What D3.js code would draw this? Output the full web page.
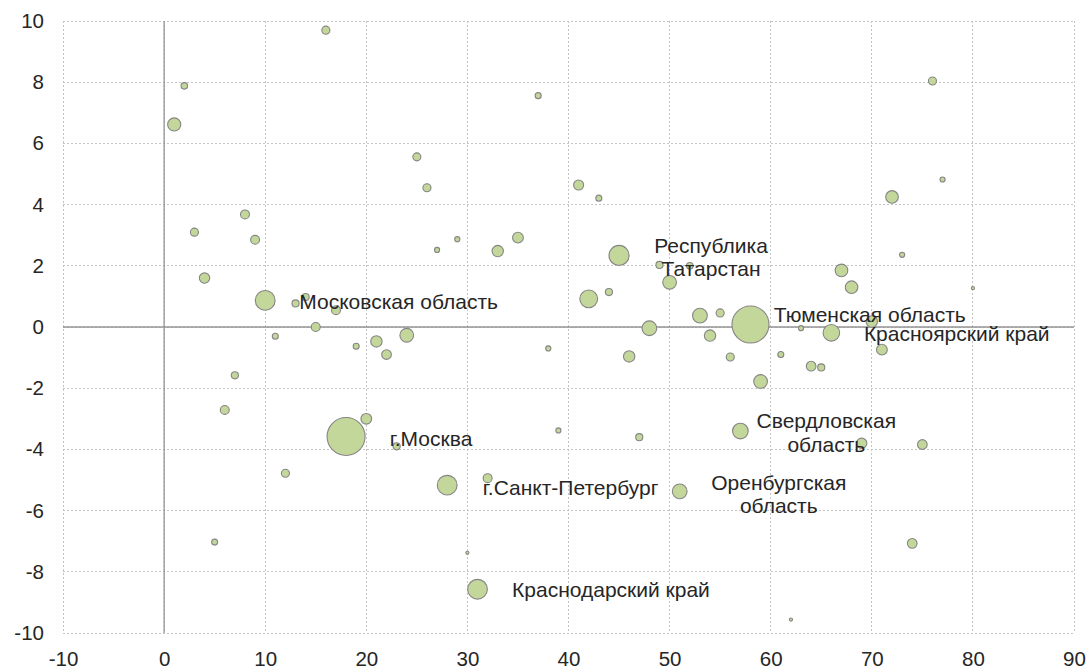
<!DOCTYPE html>
<meta charset="utf-8">
<script src="https://d3js.org/d3.v7.min.js"></script>
<style>
  body { margin: 0; background: #fff; }
  text { font-family: "Liberation Sans", Arial, sans-serif; fill: #262626; }
</style>
<div id="my_dataviz"></div>
<script>

// bubble values: x, y and size
var xs = [16, 2, 1, 8, 3, 37, 25, 26, 41, 43, 76, 77, 72,
  9, 4, 10, 13, 14, 17, 15, 11, 19, 7, 6, 18, 20,
  27, 29, 33, 35, 45, 49, 52, 50, 42, 44, 53, 55, 48, 54, 56,
  21, 24, 22, 38, 46, 39, 47, 23,
  73, 80, 67, 68, 58, 63, 66, 70, 71, 61, 64, 65, 59, 57, 75, 69,
  12, 5, 28, 32, 30, 31, 51, 74, 62];
var ys = [9.7, 7.88, 6.62, 3.68, 3.1, 7.56, 5.56, 4.55, 4.64, 4.21, 8.04, 4.82, 4.25,
  2.85, 1.6, 0.87, 0.77, 0.98, 0.55, 0, -0.3, -0.63, -1.58, -2.71, -3.58, -3.0,
  2.52, 2.87, 2.48, 2.92, 2.34, 2.03, 2.0, 1.46, 0.92, 1.14, 0.37, 0.46, -0.04, -0.28, -0.98,
  -0.47, -0.27, -0.9, -0.7, -0.96, -3.38, -3.6, -3.9,
  2.36, 1.27, 1.85, 1.3, 0.08, -0.04, -0.19, 0.18, -0.74, -0.9, -1.28, -1.32, -1.78, -3.4, -3.84, -3.8,
  -4.78, -7.03, -5.17, -4.94, -7.38, -8.57, -5.37, -7.07, -9.56];
var sizes = [4.5, 3, 12, 5.5, 4.5, 2.5, 4.5, 4.5, 7, 2.5, 4.5, 1.8, 11,
  5.5, 7.5, 27, 3.5, 3.5, 5.5, 5.5, 2.5, 2.5, 3.5, 5.5, 100, 8,
  1.8, 1.8, 9, 8, 28, 3.5, 3, 13, 22, 3.5, 15, 4.5, 15, 9, 4.5,
  9, 13, 6.5, 1.8, 9, 1.8, 3.5, 3.5,
  1.8, 0.7, 11, 11, 95, 1.8, 19, 9, 8, 2.5, 6.5, 3.5, 13, 17, 6.5, 7.5,
  4.5, 2.5, 27, 5.5, 0.7, 27, 15, 6.5, 0.7];

// labels for the named regions
var labelNames = [["Московская область"], ["г.Москва"], ["г.Санкт-Петербург"],
  ["Краснодарский край"], ["Оренбургская", "область"], ["Свердловская", "область"],
  ["Тюменская область"], ["Красноярский край"], ["Республика", "Татарстан"]];
var labelX = [23.2, 26.4, 40.2, 44.2, 60.8, 65.5, 69.8, 78.4, 54.1];
var labelY = [0.58, -3.88, -5.48, -8.82, -5.32, -3.31, 0.17, -0.45, 2.42];

var xTicks = d3.range(-10, 91, 10);
var yTicks = d3.range(-10, 11, 2);

var margin = {top: 21, right: 16, bottom: 37, left: 63},
    width = 1090 - margin.left - margin.right,
    height = 670 - margin.top - margin.bottom;

var svg = d3.select("#my_dataviz")
  .append("svg")
    .attr("width", 1090)
    .attr("height", 670)
  .append("g")
    .attr("transform", "translate(" + margin.left + "," + margin.top + ")");

var x = d3.scaleLinear().domain([-10, 90]).range([0, width]);
var y = d3.scaleLinear().domain([-10, 10]).range([height, 0]);
var r = d3.scaleSqrt().domain([0, 100]).range([0, 19]);

// dashed grid
svg.append("g")
  .selectAll("line.vg")
  .data(xTicks)
  .enter().append("line")
    .attr("x1", function(d) { return x(d); })
    .attr("x2", function(d) { return x(d); })
    .attr("y1", 0).attr("y2", height)
    .attr("stroke", "#c4c4c4")
    .attr("stroke-dasharray", "2,2")
    .attr("shape-rendering", "crispEdges");
svg.append("g")
  .selectAll("line.hg")
  .data(yTicks)
  .enter().append("line")
    .attr("y1", function(d) { return y(d); })
    .attr("y2", function(d) { return y(d); })
    .attr("x1", 0).attr("x2", width)
    .attr("stroke", "#c4c4c4")
    .attr("stroke-dasharray", "2,2")
    .attr("shape-rendering", "crispEdges");

// zero axes
svg.append("line")
  .attr("x1", x(0)).attr("x2", x(0)).attr("y1", 0).attr("y2", height)
  .attr("stroke", "#959595").attr("stroke-width", 1.3);
svg.append("line")
  .attr("y1", y(0)).attr("y2", y(0)).attr("x1", 0).attr("x2", width)
  .attr("stroke", "#959595").attr("stroke-width", 1.3);

// tick labels (plain hyphen for negatives, like the original)
var fmt = function(d) { return String(d); };
var xAxis = svg.append("g")
  .attr("transform", "translate(0," + height + ")")
  .call(d3.axisBottom(x).tickValues(xTicks).tickFormat(fmt).tickSize(0).tickPadding(18));
var yAxis = svg.append("g")
  .call(d3.axisLeft(y).tickValues(yTicks).tickFormat(fmt).tickSize(0).tickPadding(19));
[xAxis, yAxis].forEach(function(a) {
  a.select(".domain").remove();
  a.selectAll("text").attr("font-size", 20.5).attr("font-family", "Liberation Sans, Arial, sans-serif").attr("fill", "#262626");
});

// bubbles, largest first so small ones stay on top
var pts = xs.map(function(d, i) { return {x: d, y: ys[i], s: sizes[i]}; })
  .sort(function(a, b) { return b.s - a.s; });

svg.append("g")
  .selectAll("circle")
  .data(pts)
  .enter().append("circle")
    .attr("cx", function(d) { return x(d.x); })
    .attr("cy", function(d) { return y(d.y); })
    .attr("r", function(d) { return r(d.s); })
    .attr("fill", "#c4d79b")
    .attr("stroke", "#858585")
    .attr("stroke-width", 1.1);

// region labels
var lab = svg.append("g")
  .selectAll("text")
  .data(labelNames)
  .enter().append("text")
    .attr("text-anchor", "middle")
    .attr("font-size", 21)
    .attr("transform", function(d, i) { return "translate(" + x(labelX[i]) + "," + y(labelY[i]) + ")"; });

lab.selectAll("tspan")
  .data(function(d) { return d; })
  .enter().append("tspan")
    .attr("x", 0)
    .attr("dy", function(d, i) { return i == 0 ? 0 : "1.12em"; })
    .text(function(d) { return d; });

</script>
</body>
</html>
